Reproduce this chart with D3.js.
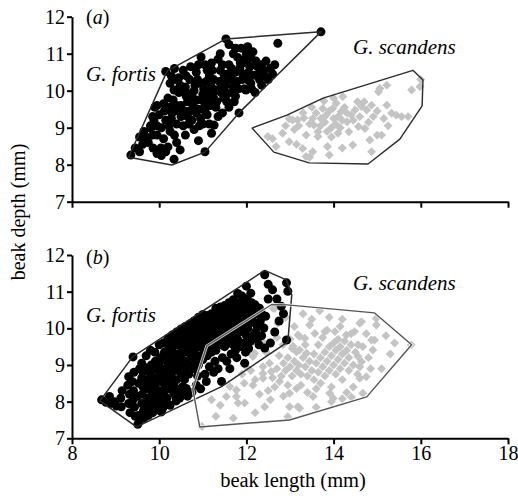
<!DOCTYPE html>
<html><head><meta charset="utf-8">
<script src="https://cdn.jsdelivr.net/npm/d3@7"></script>
<style>body{margin:0;background:#fff}svg{display:block}text{font-family:"Liberation Serif","Times New Roman",serif;fill:#000}</style>
</head><body><svg id="c" width="518" height="498"></svg>
<script>
const xTicks=[8,10,12,14,16,18];
const yTicks=[7,8,9,10,11,12];
const xTitle="beak length (mm)";
const yTitle="beak depth (mm)";
const panelLetters=["a","b"];
const speciesNames=["G. fortis","G. scandens"];

const fortisA=[
[9.35,8.26],[9.55,8.75],[9.70,8.75],[9.62,8.55],[9.86,8.45],[10.04,8.45],[10.20,8.48],[9.81,8.99],[9.88,9.21],[9.80,9.05],[9.95,8.80],[10.05,9.00],[10.10,8.70],[9.85,9.30],[9.95,9.60],[9.90,9.55],[10.0,9.35],[10.15,9.20],[10.25,8.90],[10.34,8.15],[10.40,8.60],[10.30,9.40],
[10.15,10.52],[10.20,9.80],[10.32,9.75],[10.34,10.02],[10.25,10.20],[10.45,9.95],[10.40,9.60],[10.50,9.30],[10.55,9.05],[10.60,8.80],[10.45,10.35],[10.60,10.10],[10.65,9.70],[10.70,9.45],[10.75,9.20],[10.80,8.95],[10.70,10.30],[10.80,10.00],[10.85,9.75],[10.90,9.50],[10.95,9.25],[10.85,10.50],[10.95,10.20],[11.00,9.90],[11.05,9.60],[11.10,9.35],[11.15,9.10],[11.05,8.35],[10.90,8.65],[11.20,8.85],[11.05,10.70],[10.96,10.91],[11.15,10.40],[11.20,10.10],[11.25,9.80],[11.30,9.55],[11.26,9.07],[10.55,10.55],[10.35,10.60],
[11.35,10.85],[11.40,10.55],[11.45,10.25],[11.50,10.00],[11.55,9.70],[11.45,9.40],[11.60,10.70],[11.65,10.40],[11.70,10.10],[11.75,9.85],[11.83,9.40],[11.53,11.40],[11.80,10.90],[11.85,10.60],[11.90,10.30],[11.95,10.05],[11.88,11.15],[12.03,11.19],[12.11,10.88],[12.05,10.50],[12.10,10.20],[11.99,10.02],[12.17,10.42],[12.25,10.65],[12.30,10.30],[12.20,9.95],[12.35,10.15],[12.40,10.55],[12.50,10.30],[12.45,10.80],[12.60,10.45],[12.72,11.28],[13.71,11.59],
[10.50,9.60],[10.62,9.95],[10.78,9.60],[10.88,10.30],[11.02,10.05],[11.12,9.75],[11.25,10.30],[11.38,10.05],[11.48,9.80],[11.58,10.45],[11.68,9.95],[11.10,10.55],[10.72,10.65],[10.40,9.10],[10.65,9.30],[10.25,9.55],[10.10,9.65],[9.95,9.05],[11.00,9.10],[11.35,9.30],[11.60,9.55],[11.78,10.25],[12.00,10.75],[12.15,11.05],[11.70,11.00],[11.45,10.70],[11.20,10.75],
[9.45,8.45],[9.55,8.35],[9.65,8.90],[9.75,8.60],[9.85,8.80],[9.95,8.30],[10.05,8.25],[10.15,8.35],[10.12,9.45],[10.22,9.05],[10.28,9.25],[10.35,8.80],[10.45,9.45],[10.48,8.40],[10.58,9.45],[10.62,9.85],[10.68,9.10],[10.75,9.85],[10.82,10.15],[10.85,9.40],[10.92,9.05],[10.98,9.75],[11.05,9.45],[11.08,10.25],[11.12,9.95],[11.18,9.60],[11.22,10.55],[11.28,10.00],[11.32,9.70],[11.38,10.25],[11.42,9.95],[11.48,10.45],[11.52,10.15],[11.55,9.90],[11.62,10.30],[11.66,10.60],[11.72,9.70],[11.75,10.50],[11.82,10.05],[11.86,10.75],[11.92,10.45],[11.96,10.85],[12.02,10.30],[12.08,10.65],[12.12,10.05],[12.22,10.80],[12.28,10.45],[12.35,10.70],[12.42,10.40],[12.55,10.60],[12.65,10.70],[12.00,11.00],[11.75,11.15],[11.40,11.00],[11.60,11.25],[10.62,10.40],[10.48,10.15],[10.38,10.30],[10.28,10.40],[10.90,10.70]
];
const scandensA=[
[12.49,8.76],[12.83,8.85],[12.98,8.62],[12.68,8.49],[13.06,9.21],[13.17,9.21],[13.32,9.26],[13.29,8.44],[13.37,8.22],[13.52,8.35],[13.55,9.07],[13.64,8.89],[13.71,9.25],[13.83,9.34],[13.86,8.49],[13.98,9.52],[14.06,9.66],[14.10,9.30],[14.17,9.43],[14.21,9.84],[14.31,9.16],[14.35,8.89],[14.40,9.34],[14.44,8.53],[14.49,9.48],[14.57,9.03],[14.64,9.57],[14.72,8.98],[14.76,9.48],[14.83,8.67],[14.87,9.61],[14.91,9.30],[15.00,8.80],[15.03,9.97],[15.06,10.06],[15.10,8.80],[15.22,9.61],[15.22,10.15],[15.33,9.39],[15.44,9.34],[15.56,9.30],[15.71,9.30],[15.79,10.02],[15.98,10.11],[16.00,10.30],[13.78,9.72],[14.00,9.80],[12.98,9.24],[13.52,9.25],[13.64,8.76],[13.37,8.80],[13.75,9.52],[14.87,8.35],[13.90,8.26],[13.45,8.20],
[13.45,9.10],[13.60,9.40],[13.70,9.05],[13.80,9.15],[13.90,9.45],[13.95,9.00],[14.00,9.25],[14.05,9.10],[14.15,9.00],[14.20,9.20],[14.25,9.55],[14.30,9.40],[13.85,8.90],[13.95,8.75],[14.10,8.85],[13.20,9.05],[13.30,9.40],[13.10,8.95],[12.90,9.05],[13.50,9.55],[14.45,9.20],[14.60,9.30],[14.55,9.70],[14.70,9.70],[15.00,9.45],[15.15,9.25],[14.80,9.15],[12.60,8.70],[13.15,8.55],[14.20,8.45],[15.25,9.05]
];
const fortisB=[
[8.68,8.05],[8.78,7.98],[8.86,8.14],[8.88,7.95],[8.98,8.00],[9.02,7.88],[9.13,7.86],[9.12,8.10],[9.15,8.30],
[9.30,8.68],[9.28,8.45],[9.32,8.20],[9.30,7.95],[9.33,7.70],
[9.40,9.22],[9.42,8.80],[9.38,8.55],[9.41,8.30],[9.40,8.05],[9.43,7.85],[9.45,7.60],
[9.51,7.38],[9.52,7.62],[9.50,8.15],[9.53,8.50],[9.55,8.90],
[9.60,9.05],[9.62,8.82],[9.60,8.65],[9.63,8.40],[9.61,8.20],[9.60,7.95],[9.64,7.75],
[9.70,9.25],[9.72,8.85],[9.70,8.60],[9.71,8.35],[9.73,8.10],[9.70,7.90],[9.72,7.68],
[9.80,9.40],[9.82,9.00],[9.80,8.75],[9.79,8.55],[9.82,8.30],[9.80,8.05],[9.83,7.85],
[9.90,9.35],[9.91,9.10],[9.89,8.90],[9.92,8.65],[9.90,8.40],[9.88,8.20],[9.92,7.95],
[10.00,9.55],[10.02,9.20],[9.99,9.00],[10.01,8.80],[10.03,8.55],[10.00,8.30],[9.98,8.10],[10.02,7.90],[10.05,7.72],
[10.10,9.60],[10.12,9.35],[10.09,9.15],[10.11,8.90],[10.10,8.70],[10.13,8.45],[10.10,8.25],[10.12,7.95],
[10.20,9.72],[10.22,9.50],[10.19,9.25],[10.21,9.05],[10.20,8.85],[10.23,8.60],[10.20,8.35],[10.18,8.10],
[10.30,9.82],[10.31,9.65],[10.29,9.40],[10.32,9.20],[10.30,8.95],[10.28,8.75],[10.31,8.50],[10.33,8.25],[10.39,8.02],
[10.40,9.90],[10.42,9.70],[10.39,9.55],[10.41,9.30],[10.40,9.10],[10.43,8.85],[10.40,8.60],[10.38,8.14],
[10.50,9.98],[10.51,9.85],[10.49,9.65],[10.52,9.45],[10.50,9.20],[10.48,9.00],[10.51,8.75],[10.53,8.40],[10.47,8.10],
[10.60,10.05],[10.62,9.95],[10.59,9.80],[10.61,9.55],[10.60,9.35],[10.63,9.10],[10.60,8.90],[10.58,8.60],[10.62,8.36],
[10.70,10.12],[10.72,10.00],[10.69,9.90],[10.71,9.70],[10.70,9.45],[10.73,9.25],[10.70,9.00],[10.68,8.75],
[10.80,10.20],[10.82,10.05],[10.79,9.80],[10.81,9.60],[10.80,9.35],[10.83,9.15],[10.80,8.90],
[10.90,10.30],[10.92,10.10],[10.89,9.90],[10.91,9.70],[10.90,9.50],[10.93,9.25],[10.90,9.00],[10.88,8.70],
[11.00,10.38],[11.02,10.20],[10.99,10.00],[11.01,9.80],[11.00,9.60],[11.03,9.40],[11.00,9.15],
[11.10,10.35],[11.12,10.30],[11.09,10.10],[11.11,9.90],[11.10,9.70],[11.13,9.50],[11.10,9.25],[11.08,8.55],
[11.20,10.40],[11.22,10.35],[11.19,10.15],[11.21,9.95],[11.20,9.75],[11.23,9.55],[11.20,9.35],
[11.30,10.55],[11.32,10.40],[11.29,10.25],[11.31,10.05],[11.30,9.85],[11.33,9.60],[11.30,9.40],[11.28,9.10],
[11.40,10.58],[11.42,10.50],[11.39,10.30],[11.41,10.10],[11.40,9.90],[11.43,9.70],[11.43,8.55],
[11.50,10.62],[11.52,10.55],[11.49,10.35],[11.51,10.15],[11.50,9.95],[11.53,9.75],[11.50,9.50],
[11.60,10.70],[11.62,10.60],[11.59,10.40],[11.61,10.20],[11.60,10.00],[11.63,9.80],[11.60,9.60],[11.62,8.90],
[11.70,10.78],[11.72,10.65],[11.69,10.45],[11.71,10.25],[11.70,10.05],[11.73,9.85],[11.70,9.55],
[11.80,10.95],[11.82,10.70],[11.79,10.50],[11.81,10.30],[11.80,10.10],[11.83,9.90],[11.80,9.70],[11.78,9.20],
[11.90,10.88],[11.92,10.75],[11.89,10.55],[11.91,10.35],[11.90,10.15],[11.93,9.95],
[12.00,11.15],[12.02,10.80],[11.99,10.60],[12.01,10.40],[12.00,10.20],[12.03,10.00],[12.00,9.80],[11.98,9.35],[11.96,9.05],
[12.10,10.96],[12.12,10.70],[12.09,10.45],[12.11,10.25],[12.10,9.65],
[12.20,10.64],[12.22,10.40],[12.19,10.15],[12.21,9.90],
[12.30,10.55],[12.32,10.20],[12.29,9.55],
[12.42,11.46],[12.44,10.33],[12.40,10.01],[12.42,9.46],
[12.50,10.80],[12.80,10.60],[12.92,11.24],[12.92,9.68],[12.95,11.01],
[9.55,7.50],[9.65,7.55],[9.75,7.62],[9.85,7.70],[9.95,7.78],[10.08,7.82],[10.15,8.05],[10.25,7.90],[10.35,8.40],[10.45,8.25],[10.55,8.20],[10.65,8.15],[10.75,8.25],[10.85,8.45],[10.95,8.35],[11.05,8.75],[11.15,8.95],[11.25,8.80],[11.35,8.90],[11.45,9.20],[11.55,9.10],[11.65,9.30],[11.75,9.40],[11.85,9.50],[11.95,9.60],[12.05,9.45],[12.15,9.80],[12.25,9.70],[12.35,9.80],[12.55,9.60],[12.65,9.90],[12.75,10.20],[12.60,11.05],[12.70,10.80],[12.85,10.40],[12.50,11.20],
[9.65,8.95],[9.75,8.45],[9.85,8.15],[9.95,8.55],[10.05,8.65],[10.15,8.55],[10.25,8.75],[10.35,9.05],[10.45,8.95],[10.55,9.10],[10.65,9.60],[10.75,9.55],[10.85,9.05],[10.95,9.65],[11.05,9.30],[11.15,9.60],[11.25,9.65],[11.35,9.75],[11.45,9.55],[11.55,9.85],[11.65,9.70],[11.75,10.15],[11.85,10.00],[11.95,10.25],[12.05,10.10],[12.15,10.55],[12.25,10.05],[12.35,10.40]
];
const scandensB=[
[15.78,9.55],[14.98,10.09],[14.98,10.27],[14.64,10.18],[14.60,10.14],[14.48,9.91],[14.87,9.68],[14.67,9.50],[14.56,9.23],[14.64,9.09],[14.60,8.64],[14.67,8.23],[13.99,8.09],[13.95,8.00],[13.18,7.86],[12.99,7.86],[12.42,7.86],[11.54,8.14],[11.77,8.32],[13.91,8.23],[13.53,8.14],[13.18,9.82],[13.57,9.86],[13.80,9.91],[14.03,9.91],[14.29,9.82],[13.45,10.09],[13.68,10.48],[12.72,10.14],[12.65,10.55],[12.19,9.32],[12.0,8.95],[13.38,9.32],[13.15,9.36],[12.38,8.95],[12.57,8.82],[12.15,8.45],[12.99,8.23],[13.15,8.36],[12.76,8.55],[13.34,9.73],[13.22,9.41],[12.84,9.55],[12.53,9.05],[12.38,8.64],[11.96,7.96],[12.95,7.59],[13.22,7.82],[14.41,8.12],[14.75,8.68],[14.60,8.95],[14.90,9.41],[14.94,9.68],[14.56,9.55],[12.15,9.27],[12.38,8.77],[11.77,8.14],[10.98,7.32],[11.62,8.41],[11.81,7.96],[12.15,9.23],[12.61,10.55],[13.22,9.78],[13.07,9.51],[13.50,10.25],[13.90,10.30],[14.20,10.25],[12.90,10.30],[13.10,10.05],[11.30,7.60],[11.70,7.55],[12.20,7.70],[13.60,7.85],[14.20,8.08],[15.10,8.90],[15.30,9.30],[15.20,9.80],[15.40,9.60],[11.20,8.05],[11.40,7.90],
[12.70,8.90],[12.80,8.70],[12.85,9.05],[12.90,8.85],[12.95,9.20],[13.00,8.95],[13.05,8.70],[13.10,9.10],[13.15,8.85],[13.20,9.00],[13.25,8.75],[13.30,9.20],[13.35,8.95],[13.40,8.70],[13.45,9.10],[13.50,8.85],[13.55,9.30],[13.55,8.60],[13.60,9.05],[13.65,8.80],[13.70,9.20],[13.70,8.50],[13.75,8.95],[13.80,9.35],[13.80,8.70],[13.85,9.10],[13.90,8.85],[13.90,9.50],[13.95,9.25],[14.00,9.00],[14.00,9.60],[14.05,8.75],[14.05,9.40],[14.10,9.15],[14.10,9.70],[14.15,8.90],[14.15,9.50],[14.20,9.30],[14.20,8.60],[14.25,9.05],[14.25,9.65],[14.30,9.40],[14.35,8.85],[14.35,9.20],[14.40,9.55],[14.45,9.00],[14.45,8.40],[14.50,9.35],[14.55,8.75],[13.95,8.40],[13.60,8.35],[13.25,8.45],[12.95,8.45],[12.65,8.40],[12.60,8.65],[12.50,8.30],[12.30,8.20],[12.45,9.35],[12.75,9.25],[13.05,9.45],[13.35,9.55],[13.65,9.55],[13.75,9.75],[14.40,9.85],[14.75,9.85],[14.80,9.20],[14.85,8.90],[14.30,8.25],[13.40,8.25],[12.85,8.15],[12.55,8.05],[12.20,8.60],[12.10,8.85],[11.95,8.50],[11.90,8.75],[13.85,9.95],[14.15,10.05],[13.30,10.40],[13.00,9.70],[12.70,9.75],[12.40,9.60]
];
const fortisHullA=[[9.30,8.20],[10.29,7.99],[11.05,8.34],[11.83,9.40],[13.71,11.59],[11.53,11.40],[10.18,10.53]];
const scandensHullA=[[12.13,8.99],[12.63,8.34],[13.44,8.05],[14.79,8.02],[15.52,8.69],[16.03,9.59],[16.05,10.29],[15.82,10.55],[13.76,9.80],[12.93,9.34]];
const fortisHullB=[[8.64,8.02],[9.39,9.22],[12.42,11.58],[12.92,11.32],[13.04,10.91],[12.95,9.63],[11.43,8.41],[9.48,7.31]];
const scandensHullB=[[11.09,9.52],[12.58,10.65],[12.93,10.64],[14.94,10.42],[15.79,9.55],[14.76,8.13],[12.99,7.50],[10.93,7.31],[10.77,8.35]];

const svg=d3.select("#c");
const x=d3.scaleLinear().domain([8,18]).range([72,508]);
const yA=d3.scaleLinear().domain([7,12]).range([201.7,16.7]);
const yB=d3.scaleLinear().domain([7,12]).range([438.3,255]);
const diamond=d3.symbol().type(d3.symbolSquare).size(40);

function panel(y,fortis,scandens,fHull,sHull,letter,showLabels,labelY,halo){
  const g=svg.append("g");
  g.append("g").selectAll("path").data(scandens).join("path")
    .attr("d",diamond).attr("fill","#c4c4c4")
    .attr("transform",d=>`translate(${x(d[0])},${y(d[1])}) rotate(45)`);
  g.append("g").selectAll("circle").data(fortis).join("circle")
    .attr("cx",d=>x(d[0])).attr("cy",d=>y(d[1])).attr("r",4.5).attr("fill","#000");
  const line=d3.line().x(d=>x(d[0])).y(d=>y(d[1])).curve(d3.curveLinearClosed);
  g.append("path").attr("d",line(fHull)).attr("fill","none").attr("stroke","#2a2a2a").attr("stroke-width",1.5).attr("stroke-linejoin","round");
  if(halo){
    g.append("path").attr("d",line(sHull)).attr("fill","none").attr("stroke","#fff").attr("stroke-width",3).attr("stroke-opacity",0.8);
  }
  g.append("path").attr("d",line(sHull)).attr("fill","none").attr("stroke",halo?"#555":"#2a2a2a").attr("stroke-width",1.4).attr("stroke-linejoin","round");

  const fmt=d3.format("d");
  const ya=g.append("g").attr("transform",`translate(${x(8)},0)`)
    .call(d3.axisLeft(y).tickValues(yTicks).tickFormat(fmt).tickSize(5).tickPadding(2).tickSizeOuter(0));
  const xa=g.append("g").attr("transform",`translate(0,${y(7)})`)
    .call(d3.axisBottom(x).tickValues(xTicks).tickSize(6).tickPadding(1.5).tickSizeOuter(0)
      .tickFormat(showLabels?fmt:()=>""));
  [ya,xa].forEach(a=>{
    a.attr("font-family",null).attr("font-size",20);
    a.selectAll("path,line").attr("stroke","#000").attr("stroke-width",2);
    a.selectAll("text").attr("fill","#000").style("font-family","'Liberation Serif',serif").attr("font-size",20);
  });

  const t=g.append("text").attr("x",86).attr("y",labelY.letter).attr("font-size",20);
  t.append("tspan").text("(");
  t.append("tspan").attr("font-style","italic").text(letter);
  t.append("tspan").text(")");
  g.append("text").attr("x",86).attr("y",labelY.fortis).attr("font-size",21).attr("font-style","italic").text(speciesNames[0]);
  g.append("text").attr("x",353).attr("y",labelY.scandens).attr("font-size",21).attr("font-style","italic").text(speciesNames[1]);
}

panel(yA,fortisA,scandensA,fortisHullA,scandensHullA,panelLetters[0],false,{letter:24,fortis:81,scandens:54},false);
panel(yB,fortisB,scandensB,fortisHullB,scandensHullB,panelLetters[1],true,{letter:264,fortis:322,scandens:290},true);

svg.append("text").attr("x",293).attr("y",487).attr("text-anchor","middle").attr("font-size",20.5).text(xTitle);
svg.append("text").attr("transform","translate(25,212) rotate(-90)").attr("text-anchor","middle").attr("font-size",20).text(yTitle);
</script></body></html>
